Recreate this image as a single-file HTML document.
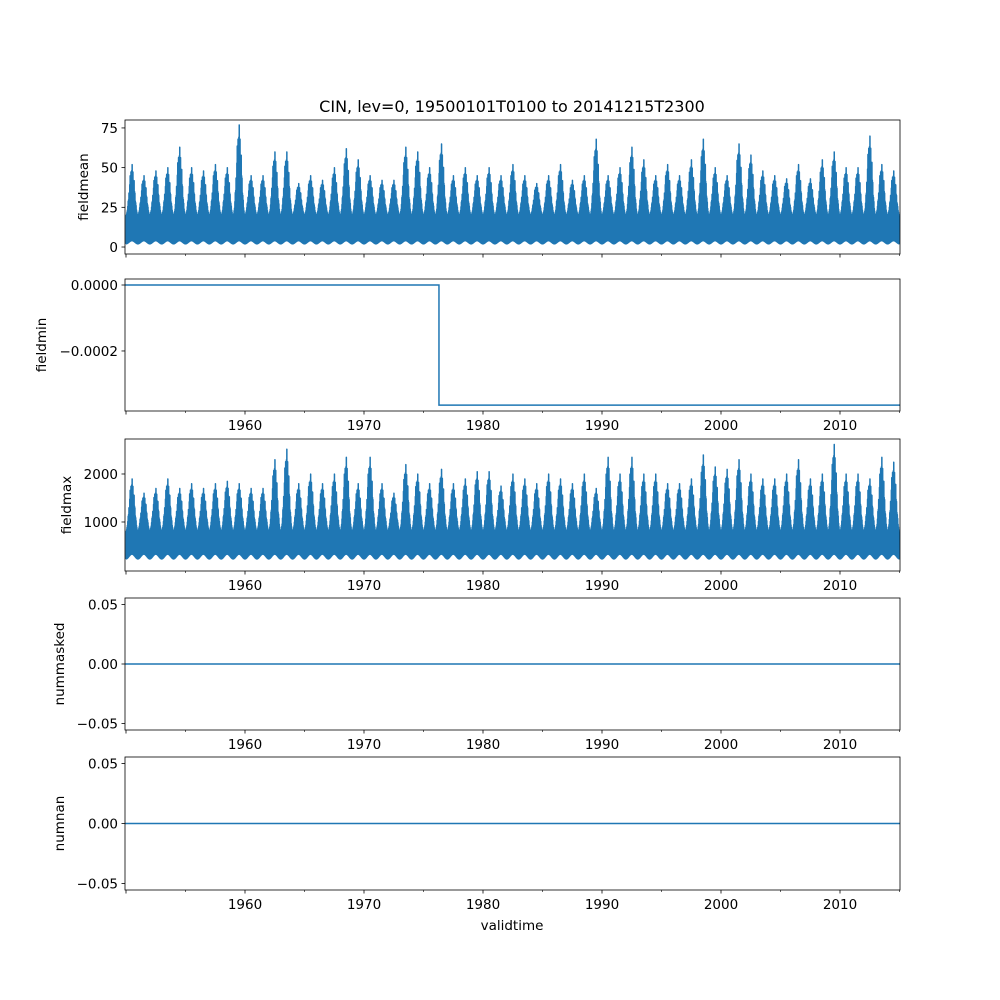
<!DOCTYPE html>
<html><head><meta charset="utf-8">
<style>
body{margin:0;background:#fff}
svg{display:block}
text{font-family:"DejaVu Sans","Liberation Sans",sans-serif;fill:#000}
</style></head>
<body>
<svg id="chart" width="1000" height="1000" xmlns="http://www.w3.org/2000/svg">
<text x="512" y="112" font-size="16" text-anchor="middle">CIN, lev=0, 19500101T0100 to 20141215T2300</text>
<text x="512" y="930" font-size="13.5" text-anchor="middle">validtime</text>
</svg>
<script>
const years = [];
for (let y = 1950; y <= 2014; y++) years.push(y);
const meanPeaks = [52,45,48,50,63,50,48,52,50,77,45,45,60,60,40,45,42,50,62,55,45,42,42,63,60,50,65,45,50,45,50,45,52,45,40,45,52,42,45,68,45,50,63,55,45,52,45,55,68,50,45,65,58,48,45,43,52,43,55,60,50,50,70,52,48];
const maxPeaks = [1900,1600,1700,1900,1700,1800,1700,1800,1850,1800,1700,1700,2300,2520,1800,2000,1800,2000,2350,1800,2350,1800,1600,2200,2000,1800,2100,1800,1900,2050,2050,1750,2000,1900,1800,2000,1900,1800,2000,1700,2350,2000,2350,2000,2000,1800,1800,1900,2400,2150,2100,2300,2000,1900,1900,2000,2300,1900,2000,2620,2000,2000,1900,2350,2250];
const meanTicks = [0,25,50,75];
const minTicks = [0,-0.0002];
const minLevels = [0,-0.000364];
const minStepYear = 1976.3;
const maxTicks = [1000,2000];
const zeroTicks = [-0.05,0,0.05];
const xTickYears = [1960,1970,1980,1990,2000,2010];

const NS = "http://www.w3.org/2000/svg";
const svg = document.getElementById('chart');
const L = 125, R = 900;
const xs = t => 126 + (t - 1950) * 11.9;
const blue = '#1f77b4';
function el(tag, attrs, parent) {
  const e = document.createElementNS(NS, tag);
  for (const k in attrs) e.setAttribute(k, attrs[k]);
  (parent || svg).appendChild(e);
  return e;
}
function panel(name, top, bot, d0, d1, ticks, fmt, label, showX) {
  const g = el('g', {});
  
  
  const ys = v => bot - (v - d0) / (d1 - d0) * (bot - top);
  const cid = 'clip-' + name;
  const cp = el('clipPath', {id: cid}, g);
  el('rect', {x: L, y: top, width: R - L, height: bot - top}, cp);
  const plot = el('g', {'clip-path': 'url(#' + cid + ')'}, g);
  
  
  ticks.forEach(v => {
    const y = ys(v);
    const tk = el('line', {x1: L - 3.5, x2: L, y1: y, y2: y, stroke: '#000', 'stroke-width': 0.8}, g);
    
    
    const t = el('text', {x: L - 7, y: y + 5, 'font-size': 13.5, 'text-anchor': 'end'}, g);
    t.textContent = fmt(v);
    
    
  });
  for (let yr = 1950; yr <= 2015; yr += 5) {
    const x = xs(yr);
    if (x < L - 1 || x > R + 1) continue;
    const major = yr % 10 === 0;
    const tk = el('line', {x1: x, x2: x, y1: bot, y2: bot + (major ? 3.5 : 2), stroke: '#000', 'stroke-width': major ? 0.8 : 0.6}, g);
    
    
  }
  if (showX) xTickYears.forEach(yr => {
    const t = el('text', {x: xs(yr), y: bot + 19, 'font-size': 13.5, 'text-anchor': 'middle'}, g);
    t.textContent = yr;
    
    
  });
  const lb = el('text', {x: 0, y: 0, 'font-size': 13.5, 'text-anchor': 'middle', transform: 'translate(' + (name === 'fieldmean' ? 88 : (name === 'fieldmin' ? 46 : (name === 'fieldmax' ? 71 : 64))) + ',' + ((top + bot) / 2) + ') rotate(-90)'}, g);
  lb.textContent = label;
  
  
  const fr = el('rect', {x: L, y: top, width: R - L, height: bot - top, fill: 'none', stroke: '#000', 'stroke-width': 0.8}, g);
  
  
  return {plot, ys};
}
function dense(p, peaks, lowW, lowS, base) {
  let d = '';
  const N = 60;
  peaks.forEach((pk, i) => {
    for (let k = 0; k < N; k++) {
      const f = k / N, t = years[i] + f;
      const s = Math.sin(Math.PI * f);
      let v;
      if (k % 2 === 0) v = lowW + (lowS - lowW) * s * s;
      else {
        const m = [1, 0.75, 0.9, 0.65, 0.85][(k >> 1) % 5];
        v = base * (0.75 + 0.25 * s) + (pk - base) * Math.pow(s, 2.5) * m;
      }
      d += (d ? 'L' : 'M') + xs(t).toFixed(2) + ',' + p.ys(v).toFixed(2);
    }
  });
  el('path', {d, fill: 'none', stroke: blue, 'stroke-width': 1.5, 'stroke-linejoin': 'round'}, p.plot);
}
const p1 = panel('fieldmean', 120, 254, -4.4, 80, meanTicks, v => v, 'fieldmean', false);
dense(p1, meanPeaks, 2, 4, 26);
const p2 = panel('fieldmin', 279, 411, -0.000382, 0.0000182, minTicks, v => v === 0 ? '0.0000' : '\u22120.0002', 'fieldmin', true);
el('path', {d: 'M' + L + ',' + p2.ys(minLevels[0]) + 'H' + xs(minStepYear) + 'V' + p2.ys(minLevels[1]) + 'H' + R, fill: 'none', stroke: blue, 'stroke-width': 1.5}, p2.plot);
const p3 = panel('fieldmax', 439, 571, -21, 2729, maxTicks, v => v, 'fieldmax', true);
dense(p3, maxPeaks, 230, 330, 1050);
const zf = v => v === 0 ? '0.00' : (v < 0 ? '\u22120.05' : '0.05');
const p4 = panel('nummasked', 598, 730, -0.0555, 0.0555, zeroTicks, zf, 'nummasked', true);
el('line', {x1: L, x2: R, y1: p4.ys(0), y2: p4.ys(0), stroke: blue, 'stroke-width': 1.5}, p4.plot);
const p5 = panel('numnan', 757, 890, -0.0555, 0.0555, zeroTicks, zf, 'numnan', true);
el('line', {x1: L, x2: R, y1: p5.ys(0), y2: p5.ys(0), stroke: blue, 'stroke-width': 1.5}, p5.plot);
</script>
</body></html>
